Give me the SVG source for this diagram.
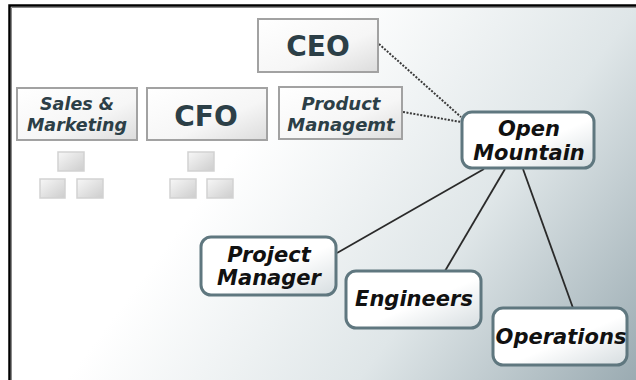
<svg xmlns="http://www.w3.org/2000/svg" width="636" height="380" viewBox="0 0 636 380">
<defs>
<linearGradient id="bg" gradientUnits="userSpaceOnUse" x1="260" y1="120" x2="636" y2="400">
<stop offset="0" stop-color="#ffffff"/>
<stop offset="0.5" stop-color="#dfe6e8"/>
<stop offset="1" stop-color="#97a8af"/>
</linearGradient>
<linearGradient id="gbox" x1="0" y1="0" x2="1" y2="1">
<stop offset="0" stop-color="#ffffff"/>
<stop offset="0.6" stop-color="#f6f6f6"/>
<stop offset="1" stop-color="#dcdcdc"/>
</linearGradient>
<linearGradient id="sq" x1="0" y1="0" x2="1" y2="1">
<stop offset="0" stop-color="#f7f7f7"/>
<stop offset="1" stop-color="#cdcdcd"/>
</linearGradient>
<linearGradient id="nbox" x1="0" y1="0" x2="1" y2="1">
<stop offset="0" stop-color="#ffffff"/>
<stop offset="0.55" stop-color="#ffffff"/>
<stop offset="1" stop-color="#d6dde0"/>
</linearGradient>
</defs>
<style>
.gb{fill:url(#gbox);stroke:#a2a2a2;stroke-width:2}
.sq{fill:url(#sq);stroke:#d2d2d2;stroke-width:1.5}
.nb{fill:url(#nbox);stroke:#5f777f;stroke-width:3}
.gt{font-family:"DejaVu Sans",sans-serif;font-weight:bold;fill:#2c3f47;text-anchor:middle}
.it{font-style:oblique}
.nt{font-family:"DejaVu Sans",sans-serif;font-weight:bold;font-style:oblique;fill:#111;text-anchor:middle;font-size:21px}
.dot{fill:none;stroke:#3a3a3a;stroke-width:2;stroke-dasharray:2 1.5}
.sol{fill:none;stroke:#2a2a2a;stroke-width:1.8}
</style>
<rect x="0" y="0" width="636" height="380" fill="#ffffff"/>
<rect x="10" y="6" width="626" height="374" fill="url(#bg)"/>
<path d="M9.5,380 V5.5 H636" fill="none" stroke="#000" stroke-width="2.5"/>
<path d="M11.5,380 V7.5 H636" fill="none" stroke="#8a8a8a" stroke-width="1"/>

<g id="connectors">
<line class="dot" x1="379" y1="44" x2="461" y2="117"/>
<line class="dot" x1="403" y1="112" x2="461" y2="122"/>
<line class="sol" x1="484" y1="169" x2="337" y2="253"/>
<line class="sol" x1="505" y1="169" x2="445" y2="271"/>
<line class="sol" x1="523" y1="169" x2="573" y2="308"/>
</g>

<g id="ceo">
<rect class="gb" x="258" y="19" width="120" height="53"/>
<text class="gt" x="318" y="56" font-size="28">CEO</text>
</g>
<g id="sales">
<rect class="gb" x="17" y="88" width="120" height="52"/>
<text class="gt it" x="77" y="110" font-size="17.5">Sales &amp;</text>
<text class="gt it" x="77" y="131" font-size="17.5">Marketing</text>
</g>
<g id="cfo">
<rect class="gb" x="147" y="88" width="120" height="52"/>
<text class="gt" x="206" y="126" font-size="28">CFO</text>
</g>
<g id="product">
<rect class="gb" x="279" y="87" width="123" height="52"/>
<text class="gt it" x="341" y="110" font-size="18">Product</text>
<text class="gt it" x="341" y="131" font-size="18">Managemt</text>
</g>
<g id="sales-sub">
<rect class="sq" x="58" y="152" width="26" height="19"/>
<rect class="sq" x="40" y="179" width="25" height="19"/>
<rect class="sq" x="77" y="179" width="26" height="19"/>
</g>
<g id="cfo-sub">
<rect class="sq" x="188" y="152" width="26" height="19"/>
<rect class="sq" x="170" y="179" width="26" height="19"/>
<rect class="sq" x="207" y="179" width="26" height="19"/>
</g>
<g id="open-mountain">
<rect class="nb" x="462" y="112" width="132" height="56" rx="10"/>
<text class="nt" x="529" y="136">Open</text>
<text class="nt" x="529" y="160">Mountain</text>
</g>
<g id="project-manager">
<rect class="nb" x="201" y="237" width="135" height="58" rx="10"/>
<text class="nt" x="269" y="262" font-size="22">Project</text>
<text class="nt" x="269" y="285" font-size="22">Manager</text>
</g>
<g id="engineers">
<rect class="nb" x="346" y="271" width="135" height="57" rx="10"/>
<text class="nt" x="414" y="306">Engineers</text>
</g>
<g id="operations">
<rect class="nb" x="493" y="308" width="134" height="57" rx="10"/>
<text class="nt" x="561" y="344" font-size="20">Operations</text>
</g>
</svg>
